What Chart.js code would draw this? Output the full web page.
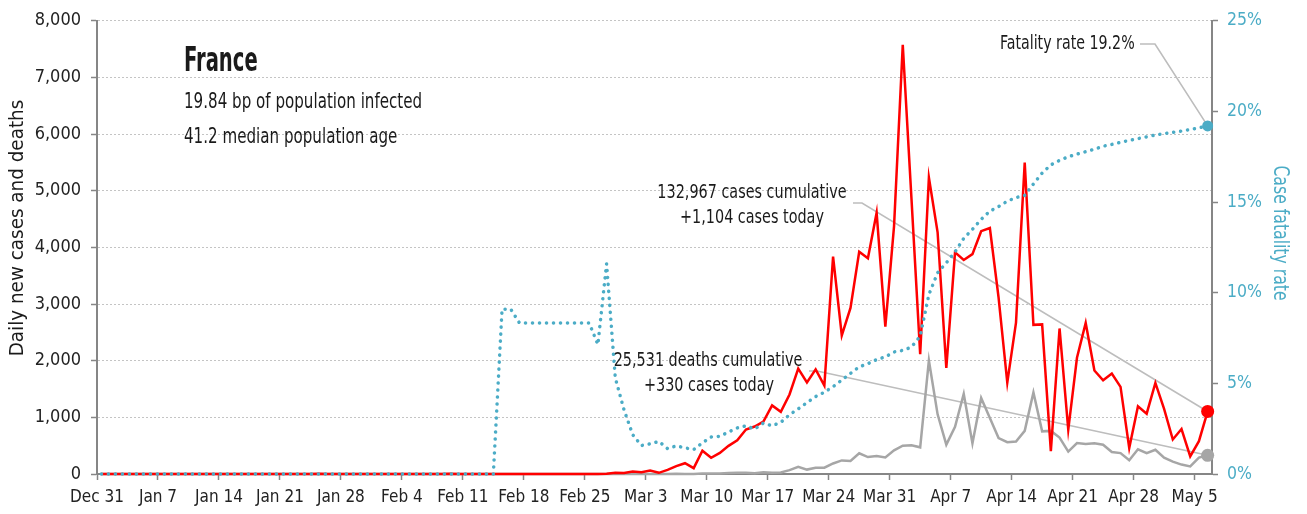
<!DOCTYPE html>
<html>
<head>
<meta charset="utf-8">
<script src="https://cdn.jsdelivr.net/npm/chart.js@4.4.1/dist/chart.umd.min.js"></script>
<style>
  body { margin: 0; background: #fff; }
  #wrap { width: 1307px; height: 514px; }
</style>
</head>
<body>
<div id="wrap"><canvas id="chart" width="1307" height="514"></canvas></div>
<script>
// weekly tick labels, starting Dec 31
const tickLabels = ['Dec 31', 'Jan 7', 'Jan 14', 'Jan 21', 'Jan 28', 'Feb 4', 'Feb 11', 'Feb 18', 'Feb 25',
  'Mar 3', 'Mar 10', 'Mar 17', 'Mar 24', 'Mar 31', 'Apr 7', 'Apr 14', 'Apr 21', 'Apr 28', 'May 5'];

// one value per day, Dec 31 .. May 6
const newCases = [
  0, 0, 0, 0, 0, 0, 0, 0, 0, 0,
  0, 0, 0, 0, 0, 0, 0, 0, 0, 0,
  0, 0, 0, 0, 0, 3, 0, 0, 0, 1,
  0, 2, 0, 0, 0, 0, 0, 0, 0, 0,
  5, 0, 0, 0, 0, 0, 0, 0, 1, 0,
  0, 0, 0, 0, 0, 0, 0, 2, 3, 21,
  19, 43, 30, 61, 21, 73, 138, 190, 103, 410,
  286, 372, 497, 595, 785, 838, 924, 1210, 1097, 1404,
  1861, 1617, 1847, 1559, 3838, 2446, 2931, 3922, 3809, 4611,
  2599, 4376, 7578, 4861, 2116, 5233, 4267, 1873, 3912, 3777,
  3881, 4286, 4342, 3114, 1613, 2673, 5497, 2633, 2641, 405,
  2569, 785, 2051, 2667, 1827, 1653, 1773, 1537, 457, 1196,
  1065, 1607, 1150, 609, 794, 310, 580, 1104
];
const newDeaths = [
  0, 0, 0, 0, 0, 0, 0, 0, 0, 0,
  0, 0, 0, 0, 0, 0, 0, 0, 0, 0,
  0, 0, 0, 0, 0, 0, 0, 0, 0, 0,
  0, 0, 0, 0, 0, 0, 0, 0, 0, 0,
  0, 0, 0, 0, 0, 0, 1, 0, 0, 0,
  0, 0, 0, 0, 0, 0, 0, 1, 0, 0,
  0, 0, 0, 1, 1, 0, 3, 2, 1, 9,
  10, 8, 16, 20, 24, 15, 29, 21, 27, 69,
  128, 78, 112, 112, 186, 240, 231, 365, 299, 319,
  292, 418, 499, 509, 471, 2004, 1053, 518, 833, 1417,
  541, 1341, 987, 635, 561, 574, 762, 1438, 753, 761,
  642, 395, 547, 531, 544, 516, 389, 369, 242, 437,
  367, 427, 289, 218, 166, 135, 290, 330
];
// case fatality rate, %
const fatalityRate = [
  0, 0, 0, 0, 0, 0, 0, 0, 0, 0,
  0, 0, 0, 0, 0, 0, 0, 0, 0, 0,
  0, 0, 0, 0, 0, 0, 0, 0, 0, 0,
  0, 0, 0, 0, 0, 0, 0, 0, 0, 0,
  0, 0, 0, 0, 0, 0, 9.09, 9.09, 8.33, 8.33,
  8.33, 8.33, 8.33, 8.33, 8.33, 8.33, 8.33, 7.14, 11.6, 5.3,
  3.54, 2.17, 1.57, 1.66, 1.80, 1.40, 1.55, 1.44, 1.35, 1.72,
  2.04, 2.08, 2.32, 2.54, 2.66, 2.48, 2.81, 2.66, 2.85, 3.27,
  3.59, 3.94, 4.27, 4.51, 4.82, 5.18, 5.55, 5.91, 6.09, 6.31,
  6.46, 6.73, 6.82, 7.0, 7.6, 9.9, 11.1, 11.65, 12.25, 13.0,
  13.5, 14.05, 14.5, 14.75, 15.05, 15.25, 15.37, 16.0, 16.6, 17.05,
  17.3, 17.5, 17.65, 17.78, 17.92, 18.08, 18.18, 18.3, 18.4, 18.5,
  18.6, 18.7, 18.77, 18.85, 18.92, 19.0, 19.1, 19.2
];

const FONT = "'Liberation Sans Narrow', 'DejaVu Sans Condensed', sans-serif";
const RED = '#ff0000', GREY = '#a6a6a6', CYAN = '#4bacc6', AXIS = '#868686';
const last = newCases.length - 1;

// points sit in the middle of each day
const toPoints = arr => arr.map((v, i) => ({ x: i + 0.5, y: v }));
const endDot = r => ctx => ctx.dataIndex === last ? r : 0;

Chart.defaults.font.family = FONT;
Chart.defaults.color = '#222';

// text squeezed sideways to get closer to the narrow face of the original
function label(ctx, text, x, y, font, align, squeeze, angle) {
  ctx.save();
  ctx.translate(x, y);
  if (angle) ctx.rotate(angle);
  ctx.scale(squeeze, 1);
  ctx.font = font;
  ctx.textAlign = align;
  ctx.fillText(text, 0, 0);
  ctx.restore();
}

const notes = {
  id: 'notes',
  beforeDatasetsDraw(chart) {
    const { ctx, scales: { x, y, y2 } } = chart;
    const ex = x.getPixelForValue(last + 0.5);
    ctx.save();
    ctx.strokeStyle = '#bdbdbd';
    ctx.lineWidth = 1.6;
    const leader = (pts) => {
      ctx.beginPath();
      ctx.moveTo(pts[0][0], pts[0][1]);
      pts.slice(1).forEach(p => ctx.lineTo(p[0], p[1]));
      ctx.stroke();
    };
    leader([[1140, 44], [1155, 44], [ex, y2.getPixelForValue(fatalityRate[last])]]);
    leader([[853, 203], [862, 203], [ex, y.getPixelForValue(newCases[last])]]);
    leader([[809, 371], [817, 371], [ex, y.getPixelForValue(newDeaths[last])]]);
    ctx.restore();
  },
  afterDraw(chart) {
    const ctx = chart.ctx;
    ctx.save();
    ctx.fillStyle = '#1a1a1a';
    ctx.textBaseline = 'middle';

    label(ctx, 'France', 184, 62, 'bold 34px ' + FONT, 'left', 0.64);
    label(ctx, '19.84 bp of population infected', 184, 103, '21px ' + FONT, 'left', 0.8);
    label(ctx, '41.2 median population age', 184, 138, '21px ' + FONT, 'left', 0.8);

    label(ctx, 'Fatality rate 19.2%', 1000, 44, '20px ' + FONT, 'left', 0.79);
    label(ctx, '132,967 cases cumulative', 752, 193, '20px ' + FONT, 'center', 0.8);
    label(ctx, '+1,104 cases today', 752, 218, '20px ' + FONT, 'center', 0.8);
    label(ctx, '25,531 deaths cumulative', 708, 361, '20px ' + FONT, 'center', 0.8);
    label(ctx, '+330 cases today', 709, 386, '20px ' + FONT, 'center', 0.8);

    // axis titles
    label(ctx, 'Daily new cases and deaths', 18, 228, '20px ' + FONT, 'center', 1.02, -Math.PI / 2);
    ctx.fillStyle = CYAN;
    label(ctx, 'Case fatality rate', 1279, 233, '21px ' + FONT, 'center', 0.83, Math.PI / 2);
    ctx.restore();
  }
};

new Chart(document.getElementById('chart'), {
  type: 'line',
  data: {
    datasets: [
      {
        label: 'Case fatality rate',
        data: toPoints(fatalityRate),
        yAxisID: 'y2',
        borderColor: CYAN,
        backgroundColor: CYAN,
        borderWidth: 3.5,
        borderDash: [0.1, 6.9],
        borderCapStyle: 'round',
        pointRadius: endDot(5.5),
        pointBorderWidth: 0,
        tension: 0,
        clip: false,
        order: 0
      },
      {
        label: 'Daily new cases',
        data: toPoints(newCases),
        yAxisID: 'y',
        borderColor: RED,
        backgroundColor: RED,
        borderWidth: 2.5,
        pointRadius: endDot(6.5),
        pointBorderWidth: 0,
        tension: 0,
        clip: false,
        order: 1
      },
      {
        label: 'Daily new deaths',
        data: toPoints(newDeaths),
        yAxisID: 'y',
        borderColor: GREY,
        backgroundColor: GREY,
        borderWidth: 2.5,
        pointRadius: endDot(6.5),
        pointBorderWidth: 0,
        tension: 0,
        clip: false,
        order: 2
      }
    ]
  },
  options: {
    responsive: false,
    animation: false,
    layout: { padding: { top: 19, left: 0, right: 0, bottom: 0 } },
    plugins: { legend: { display: false }, tooltip: { enabled: false } },
    scales: {
      x: {
        type: 'linear',
        min: 0,
        max: 128,
        afterBuildTicks: s => { s.ticks = tickLabels.map((_, k) => ({ value: k * 7 })); },
        afterFit: s => { s.height = 40; },
        ticks: {
          autoSkip: false,
          maxRotation: 0,
          padding: 7,
          color: '#222',
          font: { size: 17 },
          callback: v => tickLabels[Math.round(v / 7)]
        },
        grid: { drawOnChartArea: false, drawTicks: true, tickLength: 6, tickColor: AXIS, tickWidth: 1.5 },
        border: { color: AXIS, width: 2 }
      },
      y: {
        position: 'left',
        min: 0,
        max: 8000,
        afterFit: s => { s.width = 97; },
        ticks: {
          stepSize: 1000,
          padding: 10,
          color: '#222',
          font: { size: 18 },
          callback: v => v.toLocaleString('en-US')
        },
        grid: { color: '#c4c4c4', lineWidth: 1, tickLength: 6, tickColor: AXIS, tickWidth: 1.5, tickBorderDash: [] },
        border: { color: AXIS, width: 2, dash: [2, 2] }
      },
      y2: {
        position: 'right',
        min: 0,
        max: 25,
        afterFit: s => { s.width = 95; },
        ticks: {
          stepSize: 5,
          padding: 9,
          color: CYAN,
          font: { size: 17.5 },
          callback: v => v + '%'
        },
        grid: { drawOnChartArea: false, tickLength: 6, tickColor: AXIS, tickWidth: 1.5 },
        border: { color: AXIS, width: 2 }
      }
    }
  },
  plugins: [notes]
});
</script>
</body>
</html>
